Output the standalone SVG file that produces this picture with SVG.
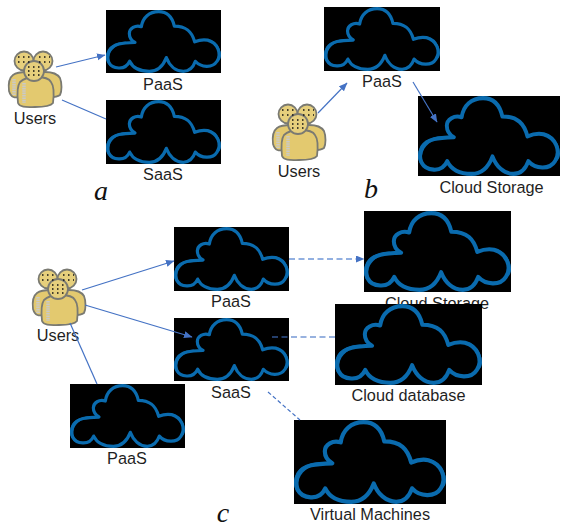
<svg xmlns="http://www.w3.org/2000/svg" xmlns:xlink="http://www.w3.org/1999/xlink" width="561" height="529" viewBox="0 0 561 529">
<style>
.lbl{font-family:"Liberation Sans",Arial,sans-serif;font-size:16.300px;fill:#1f1f1f;text-anchor:middle}
.let{font-family:"Liberation Serif","Times New Roman",serif;font-style:italic;font-size:28px;fill:#111;text-anchor:middle}
.c{fill:none;stroke:#4472c4;stroke-width:1.200}
.d{stroke-dasharray:6 3.500}
.cl{fill:none;stroke:#0a6bae;stroke-width:9.500;stroke-linejoin:round}
.b{fill:#e3c96f;stroke:#7a7a72;stroke-width:1.800}
.h{fill:#e6cf7c;stroke:#7a7a72;stroke-width:1.800}
.st{stroke:#c9c9c9;stroke-width:3.500;stroke-dasharray:1.600 .8;fill:none}
.dot{stroke:#111;stroke-width:1.300;stroke-dasharray:1.500 3.500;fill:none}
</style>
<defs>
<marker id="ah" markerWidth="9" markerHeight="8" refX="8" refY="3.500" orient="auto" markerUnits="userSpaceOnUse"><path d="M0 0L8.500 3.500L0 7Z" fill="#4472c4"/></marker>
<symbol id="cloud" viewBox="0 0 345 188" preserveAspectRatio="none" overflow="visible">
<rect width="345" height="188" fill="#000"/>
<path class="cl" d="M87 97C50 98 22 100 10 120C-2 145 8 172 38 173C54 174 65 166 71 153C82 176 105 183 130 183C155 183 172 165 181 142C190 165 208 183 232 183C250 183 262 170 268 153C285 172 320 174 333 153C348 130 335 98 305 90C290 87 278 90 266 95C258 65 242 48 205 48C198 18 182 5 158 5C130 5 110 22 106 50C88 44 70 55 70 70C70 82 78 92 87 97Z"/>
<path d="M0 140C1 112 24 96 62 94C34 104 13 116 10 140C9 152 13 164 24 172C8 168 0 156 0 140ZM345 135C344 110 328 92 305 86C328 96 338 112 337 135C337 145 333 152 328 158C340 154 345 146 345 135Z" fill="#0a6bae"/>
</symbol>
<symbol id="users" viewBox="0 0 70 70" overflow="visible">
<path class="b" d="M9 46C8 38 9 33 13 30C17 27 22 27 27 27L45 27C50 27 57 28 60 33C62 38 62 46 60 50C56 53 50 52 45 52L20 52C15 53 11 53 9 46Z"/>
<path class="st" d="M14 34V50"/>
<circle class="h" cx="24" cy="16" r="9.500"/>
<circle class="h" cx="43" cy="16" r="9.500"/>
<path class="b" d="M18 58C17 48 17 41 20 37C24 33 29 32 36 32C43 32 49 33 51 37C54 41 54 50 53 58C50 62 41 62 35 62C28 62 20 63 18 58Z"/>
<path class="st" d="M24 38V58"/>
<circle class="h" cx="34" cy="26" r="10"/>
<path class="dot" d="M18 12H30M18 17H30M39 12H50M39 17H50M28 22H41M28 26H41M28 30H41"/>
</symbol>
</defs>
<g id="a-paas"><use xlink:href="#cloud" href="#cloud" x="106" y="10" width="115" height="63"/><text class="lbl" x="163" y="90">PaaS</text></g>
<g id="a-saas"><use xlink:href="#cloud" href="#cloud" x="106" y="100" width="115" height="64"/><text class="lbl" x="163" y="180">SaaS</text></g>
<g id="a-users"><use xlink:href="#users" href="#users" x="0" y="45" width="70" height="70"/><text class="lbl" x="35" y="124">Users</text></g>
<text class="let" x="101" y="200">a</text>
<g id="b-paas"><use xlink:href="#cloud" href="#cloud" x="324" y="7" width="116" height="64"/><text class="lbl" x="382" y="87">PaaS</text></g>
<g id="b-storage"><use xlink:href="#cloud" href="#cloud" x="418" y="96" width="142" height="80"/><text class="lbl" x="491.500" y="193">Cloud Storage</text></g>
<g id="b-users"><use xlink:href="#users" href="#users" x="264" y="98" width="70" height="70"/><text class="lbl" x="299" y="177">Users</text></g>
<text class="let" x="371" y="198">b</text>
<g id="c-paas1"><use xlink:href="#cloud" href="#cloud" x="174" y="227" width="115" height="64"/><text class="lbl" x="231" y="307">PaaS</text></g>
<g id="c-saas"><use xlink:href="#cloud" href="#cloud" x="174" y="318" width="115" height="63"/><text class="lbl" x="231" y="398">SaaS</text></g>
<g id="c-paas2"><use xlink:href="#cloud" href="#cloud" x="70" y="384" width="115" height="64"/><text class="lbl" x="127" y="464">PaaS</text></g>
<g id="c-storage"><text class="lbl" x="437" y="309">Cloud Storage</text><use xlink:href="#cloud" href="#cloud" x="364" y="211" width="147" height="81"/></g>
<g id="c-database"><use xlink:href="#cloud" href="#cloud" x="335" y="304" width="147" height="81"/><text class="lbl" x="408.500" y="401">Cloud database</text></g>
<g id="c-vm"><use xlink:href="#cloud" href="#cloud" x="294" y="420" width="152" height="84"/><text class="lbl" x="370" y="520">Virtual Machines</text></g>
<g id="c-users"><use xlink:href="#users" href="#users" x="24" y="263" width="70" height="70"/><text class="lbl" x="58" y="341">Users</text></g>
<text class="let" x="223" y="522">c</text>
<g id="connectors">
<path class="c" d="M56 67L105 55" marker-end="url(#ah)"/>
<path class="c" d="M62 100L106 119"/>
<path class="c" d="M318 113L347 83" marker-end="url(#ah)"/>
<path class="c" d="M413 82L437 122" marker-end="url(#ah)"/>
<path class="c" d="M82 290L174 261" marker-end="url(#ah)"/>
<path class="c" d="M85 305L192 337" marker-end="url(#ah)"/>
<path class="c" d="M70 323L97 384"/>
<path class="c d" d="M289 259L364 259" style="stroke:#6f96d8;stroke-width:1.600" marker-end="url(#ah)"/>
<path class="c d" d="M272 337L335 337" style="stroke-width:2;stroke-opacity:.55"/>
<path class="c d" d="M268 392L300 420" style="stroke-dasharray:4 2.500"/>
</g>
</svg>
